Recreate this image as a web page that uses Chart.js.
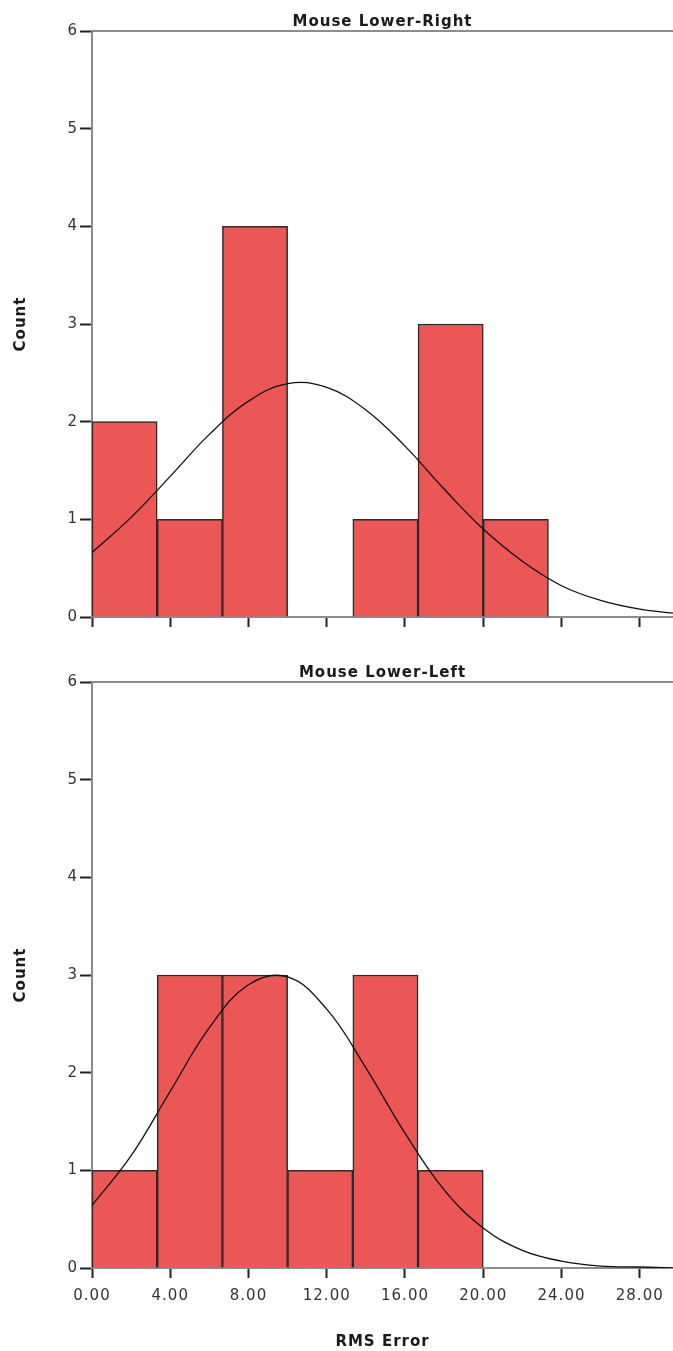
<!DOCTYPE html>
<html><head><meta charset="utf-8">
<script src="https://cdn.jsdelivr.net/npm/chart.js@4"></script>
<style>
html,body{margin:0;padding:0;background:#fff;}
#wrap{position:relative;width:673px;height:1351px;overflow:hidden;}
canvas{position:absolute;left:0;}
</style></head><body>
<div id="wrap">
<canvas id="c1" width="673" height="651" style="top:0"></canvas>
<canvas id="c2" width="673" height="700" style="top:651px"></canvas>
</div>
<script>
const binEdges = [0, 3.333, 6.667, 10, 13.333, 16.667, 20, 23.333];
const countsLowerRight = [2, 1, 4, 0, 1, 3, 1];
const countsLowerLeft = [1, 3, 3, 1, 3, 1];
const curveX = [0, 2, 4, 6, 8, 10, 12, 14, 16, 18, 20, 22, 24, 26, 28, 29.7];
const curveLowerRight = [0.66, 1.02, 1.44, 1.87, 2.21, 2.39, 2.35, 2.12, 1.75, 1.31, 0.90, 0.57, 0.32, 0.17, 0.08, 0.04];
const curveLowerLeft = [0.64, 1.15, 1.81, 2.46, 2.90, 2.98, 2.65, 2.05, 1.38, 0.80, 0.41, 0.18, 0.07, 0.02, 0.01, 0.00];
const xTicks = [0, 4, 8, 12, 16, 20, 24, 28];
const yTicks = [0, 1, 2, 3, 4, 5, 6];
const xMax = 29.7;
const titles = ['Mouse Lower-Right', 'Mouse Lower-Left'];
const xTitle = 'RMS Error';
const yTitle = 'Count';

const spacingPlugin = {
  id: 'spacing',
  beforeUpdate(chart) { chart.ctx.letterSpacing = '1px'; },
  beforeDraw(chart) { chart.ctx.letterSpacing = '1px'; }
};
const framePlugin = {
  id: 'frame',
  beforeDatasetsDraw(chart) {
    const {ctx, chartArea: a} = chart;
    ctx.save();
    ctx.strokeStyle = '#8c8c8c';
    ctx.lineWidth = 2;
    ctx.beginPath();
    ctx.moveTo(a.left, a.top);
    ctx.lineTo(a.right, a.top);
    ctx.stroke();
    ctx.restore();
  }
};

function make(id, title, counts, curve, showX) {
  const bars = counts.map((c, i) => ({x: (binEdges[i] + binEdges[i + 1]) / 2, y: c}));
  const line = curveX.map((x, i) => ({x: x, y: curve[i]}));
  const boldFont = {family: 'DejaVu Sans', weight: 'bold', size: 15};
  const tickFont = {family: 'DejaVu Sans', size: 15};
  return new Chart(document.getElementById(id), {
    type: 'bar',
    data: {
      datasets: [
        {type: 'line', data: line, borderColor: '#111', borderWidth: 1.3, pointRadius: 0,
         tension: 0.4, fill: false, order: 0},
        {type: 'bar', data: bars, backgroundColor: '#EB5656', borderColor: '#2a2a2a',
         borderWidth: 1.5, barPercentage: 1, categoryPercentage: 1, order: 1}
      ]
    },
    options: {
      responsive: false,
      animation: false,
      layout: {padding: {left: 0, right: 0, top: 0, bottom: showX ? 0 : 24}},
      plugins: {
        legend: {display: false},
        tooltip: {enabled: false},
        title: {display: true, text: title, fullSize: false, color: '#1a1a1a',
                font: boldFont, padding: {top: 13, bottom: 0}}
      },
      scales: {
        x: {
          type: 'linear', min: 0, max: xMax, offset: false,
          afterBuildTicks: s => { s.ticks = xTicks.map(v => ({value: v})); },
          ticks: {display: showX, callback: v => Number(v).toFixed(2), autoSkip: false, maxRotation: 0,
                  color: '#333', font: tickFont, padding: 9},
          grid: {offset: false, drawOnChartArea: false, drawTicks: true, tickLength: 10, tickWidth: 2, tickColor: '#222'},
          border: {display: true, color: '#8c8c8c', width: 2},
          title: {display: showX, text: xTitle, color: '#1a1a1a',
                  font: boldFont, padding: {top: 19, bottom: 0}}
        },
        y: {
          min: 0, max: 6,
          afterBuildTicks: s => { s.ticks = yTicks.map(v => ({value: v})); },
          afterFit: s => { s.width = 92; },
          ticks: {color: '#333', font: tickFont, padding: 2},
          grid: {offset: false, drawOnChartArea: false, drawTicks: true, tickLength: 12, tickWidth: 2, tickColor: '#222'},
          border: {display: true, color: '#8c8c8c', width: 2},
          title: {display: true, text: yTitle, color: '#1a1a1a',
                  font: boldFont, padding: {top: 12, bottom: 0}}
        }
      }
    },
    plugins: [spacingPlugin, framePlugin]
  });
}

make('c1', titles[0], countsLowerRight, curveLowerRight, false);
make('c2', titles[1], countsLowerLeft, curveLowerLeft, true);
</script>
</body></html>
